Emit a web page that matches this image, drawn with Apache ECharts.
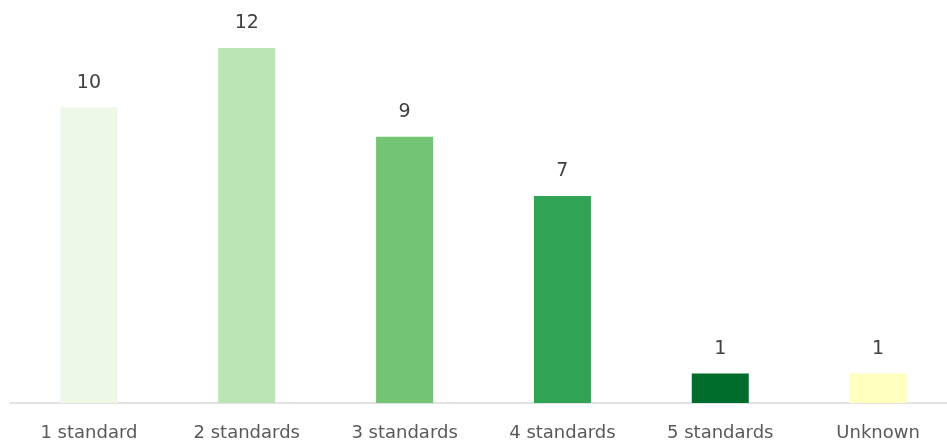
<!DOCTYPE html>
<html>
<head>
<meta charset="utf-8">
<script src="https://cdn.jsdelivr.net/npm/echarts@6/dist/echarts.min.js"></script>
<style>html,body{margin:0;padding:0;background:#fff;overflow:hidden;width:947px;height:443px;}#c{width:957px;height:443px;}</style>
</head>
<body>
<div id="c"></div>
<script>
var categories = ['1 standard', '2 standards', '3 standards', '4 standards', '5 standards', 'Unknown'];
var values = [10, 12, 9, 7, 1, 1];
var colors = ['#edf8e9', '#bae4b3', '#74c476', '#31a354', '#006d2c', '#ffffc0'];

var chart = echarts.init(document.getElementById('c'));
chart.setOption({
  animation: false,
  grid: { left: 10, right: 0, top: 48, bottom: 40, containLabel: false },
  xAxis: {
    type: 'category',
    data: categories,
    axisLine: { lineStyle: { color: '#d9d9d9', width: 1.5 } },
    axisTick: { show: false },
    axisLabel: { color: '#595959', fontSize: 18, fontFamily: 'DejaVu Sans', margin: 21 }
  },
  yAxis: {
    type: 'value', min: 0, max: 12,
    show: false,
    splitLine: { show: false }
  },
  series: [{
    type: 'bar',
    barWidth: 57,
    data: values.map(function (v, i) { return { value: v, itemStyle: { color: colors[i] } }; }),
    label: { show: true, position: 'top', distance: 15, color: '#404040', fontSize: 19, fontFamily: 'DejaVu Sans' }
  }]
});
</script>
</body>
</html>
